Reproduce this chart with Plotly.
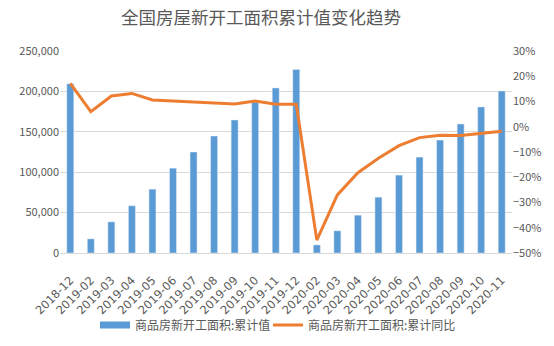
import plotly.graph_objects as go

categories = ["2018-12", "2019-02", "2019-03", "2019-04", "2019-05", "2019-06", "2019-07",
              "2019-08", "2019-09", "2019-10", "2019-11", "2019-12", "2020-02", "2020-03",
              "2020-04", "2020-05", "2020-06", "2020-07", "2020-08", "2020-09", "2020-10", "2020-11"]
cum_value = [209342, 17500, 38500, 58500, 79000, 105000, 125000, 144800, 164600, 186600, 204300,
             227154, 10000, 27500, 46800, 69100, 96400, 118700, 139800, 159700, 180800, 200600]
cum_yoy = [17.2, 6.0, 12.2, 13.2, 10.6, 10.2, 9.7, 9.1, 9.0, 10.2, 8.9,
           8.9, -44.9, -27.0, -18.2, -12.5, -7.5, -4.3, -3.4, -3.5, -2.6, -1.8]

bar_name = "商品房新开工面积:累计值"
line_name = "商品房新开工面积:累计同比"
title = "全国房屋新开工面积累计值变化趋势"

font_fam = "Noto Sans CJK SC, Noto Sans, sans-serif"
gray = "#595959"
blue = "#5B9BD5"
orange = "#ED7D31"

fig = go.Figure()
fig.add_trace(go.Bar(x=categories, y=cum_value, name=bar_name, marker_color=blue,
                     width=0.34, yaxis="y", showlegend=False))
# legend entry for the bars (wide rectangle like the original)
fig.add_trace(go.Scatter(x=[None], y=[None], name=bar_name, mode="lines",
                         line=dict(color=blue, width=7), yaxis="y", legend="legend"))
fig.add_trace(go.Scatter(x=categories, y=cum_yoy, name=line_name, mode="lines",
                         line=dict(color=orange, width=3), yaxis="y2", legend="legend2"))

leg_common = dict(orientation="h", y=-0.356, yanchor="middle", xanchor="left",
                  font=dict(size=12, color=gray), itemwidth=30, bgcolor="rgba(0,0,0,0)")

fig.update_layout(
    width=554, height=346,
    margin=dict(l=60, r=42, t=51, b=93, autoexpand=False),
    paper_bgcolor="white", plot_bgcolor="white",
    font=dict(family=font_fam, color=gray, size=11),
    title=dict(text=title, x=261 / 554, xanchor="center", y=1 - 18 / 346, yanchor="middle",
               font=dict(size=17.5, color=gray)),
    showlegend=True,
    legend=dict(x=(95 - 60) / 452, **leg_common),
    legend2=dict(x=(268 - 60) / 452, **leg_common),
    xaxis=dict(type="category", tickangle=-45, showgrid=False, showline=True,
               linecolor="#D9D9D9", linewidth=1, ticks="", automargin=False,
               ticklabelstandoff=15,
               tickfont=dict(size=11.5, color=gray, family="DejaVu Sans, sans-serif")),
    yaxis=dict(range=[0, 250000], dtick=50000, tickformat=",", showgrid=True,
               gridcolor="#D9D9D9", zeroline=False, showline=False, ticks="",
               automargin=False, tickfont=dict(size=11, color=gray)),
    yaxis2=dict(range=[-50, 30], dtick=10, ticksuffix="%", overlaying="y", side="right",
                showgrid=False, zeroline=False, showline=False, ticks="",
                automargin=False, tickfont=dict(size=11, color=gray)),
)

fig.write_html("out.html")
